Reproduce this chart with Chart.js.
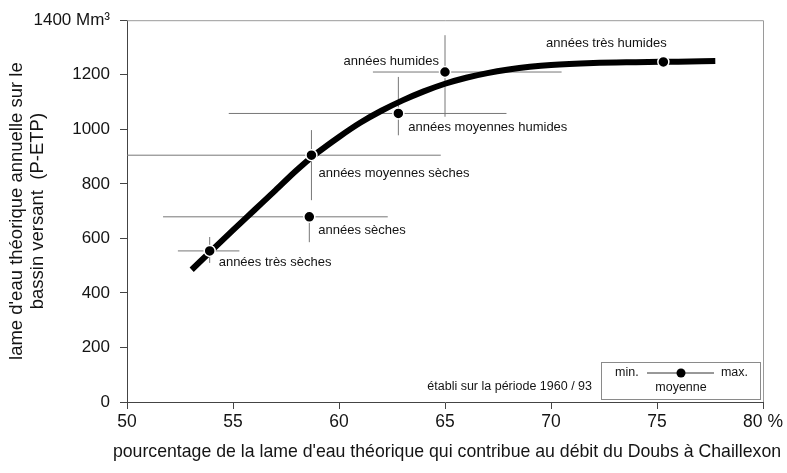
<!DOCTYPE html>
<html lang="fr">
<head>
<meta charset="utf-8">
<title>Lame d'eau théorique - Doubs à Chaillexon</title>
<script src="https://cdn.jsdelivr.net/npm/chart.js@4.4.1/dist/chart.umd.min.js"></script>
<style>
  html, body { margin: 0; padding: 0; background: #fff; }
  #wrap { width: 787px; height: 473px; position: relative; }
</style>
</head>
<body>
<div id="wrap"><canvas id="chart"></canvas></div>
<script>
/* Classes d'années : moyenne, min. et max. (% contributif / lame d'eau Mm3) */
const categories = [
  'années très sèches',
  'années sèches',
  'années moyennes sèches',
  'années moyennes humides',
  'années humides',
  'années très humides',
];
const meanPct = [53.9, 58.6, 58.7, 62.8, 65.0, 75.3];
const meanVol = [554, 679, 905, 1058, 1210, 1247];
const minPct = [52.4, 51.7, 50.0, 54.8, 61.6, null];
const maxPct = [55.3, 62.3, 64.8, 67.9, 70.5, null];
const minVol = [510, 586, 740, 978, 1046, null];
const maxVol = [605, 700, 997, 1192, 1345, null];

/* courbe d'ajustement */
const curvePct = [53.05, 54, 55, 56, 57, 58, 59, 60, 61, 62, 63, 64, 65, 66, 67, 68, 69, 70, 72, 74, 76, 77.75];
const curveVol = [485, 556, 630, 703, 776, 850, 915, 972, 1024, 1068, 1106, 1139, 1167, 1189, 1206, 1219, 1229, 1236, 1243, 1246, 1248, 1250];

const xTicks = [50, 55, 60, 65, 70, 75, 80];
const yTicks = [0, 200, 400, 600, 800, 1000, 1200, 1400];

const X_TITLE = "pourcentage de la lame d'eau théorique qui contribue au débit du Doubs à Chaillexon";
const Y_TITLE = ["lame d'eau théorique annuelle sur le", 'bassin versant  (P-ETP)'];

const FONT = '"Liberation Sans", Arial, Helvetica, sans-serif';
const INK = '#141414';

// label placement relative to each mean point (px)
const LABEL_POS = [
  { dx: 9, dy: 12, align: 'left' },
  { dx: 9, dy: 14, align: 'left' },
  { dx: 7, dy: 18, align: 'left' },
  { dx: 10, dy: 14, align: 'left' },
  { dx: -6, dy: -11, align: 'right' },
  { dx: -57, dy: -19, align: 'center' },
];

/* ── datasets ─────────────────────────────────────────── */

const whiskers = [];
categories.forEach((_, i) => {
  if (minPct[i] !== null) {
    whiskers.push([{ x: minPct[i], y: meanVol[i] }, { x: maxPct[i], y: meanVol[i] }]);
  }
  if (minVol[i] !== null) {
    whiskers.push([{ x: meanPct[i], y: minVol[i] }, { x: meanPct[i], y: maxVol[i] }]);
  }
});

const datasets = [
  {
    label: 'moyenne',
    data: meanPct.map((p, i) => ({ x: p, y: meanVol[i] })),
    showLine: false,
    pointRadius: 5.5,
    pointBackgroundColor: '#000',
    pointBorderColor: '#fff',
    pointBorderWidth: 1.5,
    order: 0,
  },
  {
    label: 'courbe',
    data: curvePct.map((p, i) => ({ x: p, y: curveVol[i] })),
    showLine: true,
    borderColor: '#000',
    borderWidth: 6,
    borderCapStyle: 'butt',
    cubicInterpolationMode: 'monotone',
    pointRadius: 0,
    order: 1,
  },
  ...whiskers.map(seg => ({
    label: 'min-max',
    data: seg,
    showLine: true,
    borderColor: '#777',
    borderWidth: 1,
    pointRadius: 0,
    order: 2,
  })),
];

/* ── decorations: frame, point labels, key, x title ───── */

const decorations = {
  id: 'decorations',
  beforeDatasetsDraw(chart) {
    const { ctx, chartArea: a } = chart;
    ctx.save();
    ctx.strokeStyle = '#9a9a9a';
    ctx.lineWidth = 1;
    ctx.beginPath();
    ctx.moveTo(a.left, a.top + 0.5);
    ctx.lineTo(a.right + 0.5, a.top + 0.5);
    ctx.lineTo(a.right + 0.5, a.bottom);
    ctx.stroke();
    ctx.restore();
  },
  afterDatasetsDraw(chart) {
    const { ctx, chartArea: a, scales: { x, y } } = chart;
    ctx.save();
    ctx.fillStyle = INK;
    ctx.textBaseline = 'middle';
    ctx.font = '13px ' + FONT;
    categories.forEach((name, i) => {
      const o = LABEL_POS[i];
      ctx.textAlign = o.align;
      ctx.fillText(name, x.getPixelForValue(meanPct[i]) + o.dx, y.getPixelForValue(meanVol[i]) + o.dy);
    });

    // axis title wider than the plot area, so drawn here rather than by the scale
    ctx.font = '17.7px ' + FONT;
    ctx.textAlign = 'center';
    ctx.fillText(X_TITLE, (a.left + a.right) / 2 + 2, a.bottom + 50);

    ctx.font = '12.5px ' + FONT;
    ctx.textAlign = 'right';
    ctx.fillText('établi sur la période 1960 / 93', a.left + 465, a.bottom - 15);

    // key box
    const bx = a.left + 474, by = a.bottom - 40, bw = 159, bh = 37;
    ctx.strokeStyle = '#8a8a8a';
    ctx.lineWidth = 1;
    ctx.strokeRect(bx + 0.5, by + 0.5, bw, bh);
    const cy = by + 11, cx = bx + 80;
    ctx.textAlign = 'left';
    ctx.fillText('min.', bx + 14, cy);
    ctx.textAlign = 'right';
    ctx.fillText('max.', bx + bw - 12, cy);
    ctx.textAlign = 'center';
    ctx.fillText('moyenne', cx, by + 26);
    ctx.strokeStyle = '#333';
    ctx.beginPath();
    ctx.moveTo(bx + 46, cy);
    ctx.lineTo(bx + bw - 46, cy);
    ctx.stroke();
    ctx.fillStyle = '#000';
    ctx.beginPath();
    ctx.arc(cx, cy, 4.5, 0, Math.PI * 2);
    ctx.fill();
    ctx.restore();
  },
};

/* ── chart ────────────────────────────────────────────── */

new Chart(document.getElementById('chart'), {
  type: 'scatter',
  data: { datasets },
  plugins: [decorations],
  options: {
    responsive: true,
    maintainAspectRatio: false,
    animation: false,
    layout: { padding: { left: 0, right: 24, top: 20, bottom: 0 } },
    plugins: {
      legend: { display: false },
      tooltip: { enabled: false },
    },
    scales: {
      x: {
        type: 'linear',
        min: xTicks[0],
        max: xTicks[xTicks.length - 1],
        afterBuildTicks: scale => { scale.ticks = xTicks.map(v => ({ value: v })); },
        afterFit: scale => { scale.height = 71; },
        grid: { drawOnChartArea: false, tickLength: 7, tickColor: '#444' },
        border: { color: '#444', width: 1 },
        ticks: {
          color: INK,
          padding: 3,
          maxRotation: 0,
          font: { family: FONT, size: 17.5 },
          callback: v => (v === 80 ? '80 %' : String(v)),
        },
        title: { display: false },
      },
      y: {
        type: 'linear',
        min: yTicks[0],
        max: yTicks[yTicks.length - 1],
        afterBuildTicks: scale => { scale.ticks = yTicks.map(v => ({ value: v })); },
        afterFit: scale => { scale.width = 127; },
        grid: { drawOnChartArea: false, tickLength: 7, tickColor: '#444' },
        border: { color: '#444', width: 1 },
        ticks: {
          color: INK,
          padding: 10,
          font: { family: FONT, size: 17 },
          callback: v => (v === 1400 ? '1400 Mm³' : String(v)),
        },
        title: {
          display: true,
          text: Y_TITLE,
          color: INK,
          align: 'center',
          font: { family: FONT, size: 18.5, lineHeight: 1.1 },
          padding: { top: 7, bottom: 0 },
        },
      },
    },
  },
});
</script>
</body>
</html>
